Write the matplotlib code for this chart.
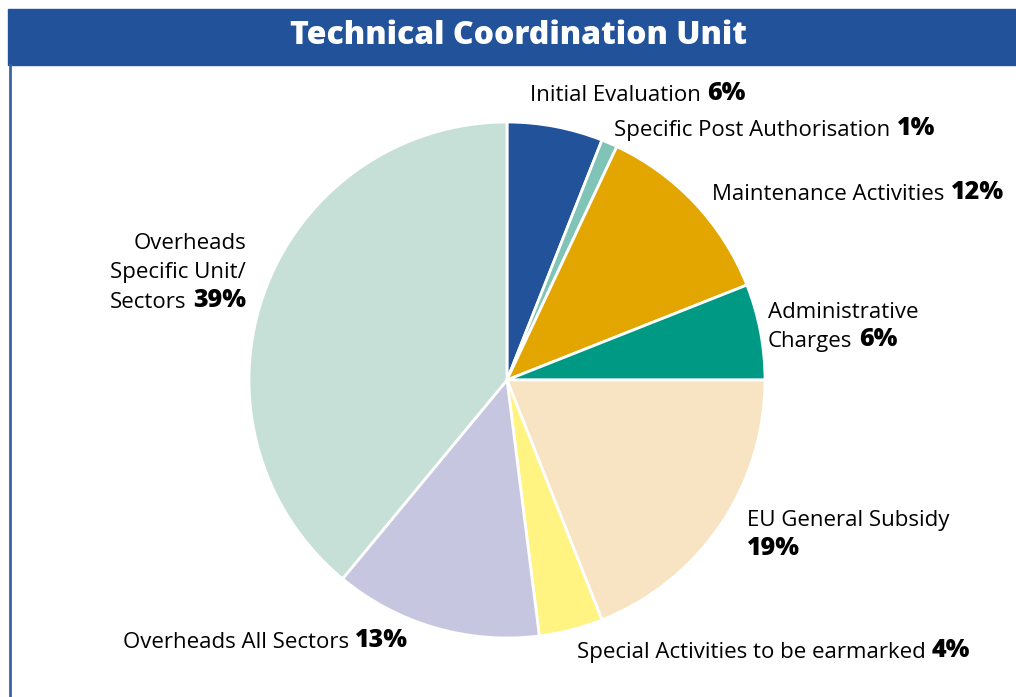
import matplotlib.pyplot as plt
from matplotlib.patches import Rectangle

plt.rcParams['font.family'] = ['Open Sans', 'DejaVu Sans']

categories = ['Initial Evaluation', 'Specific Post Authorisation', 'Maintenance Activities',
              'Administrative Charges', 'EU General Subsidy', 'Special Activities to be earmarked',
              'Overheads All Sectors', 'Overheads Specific Unit/ Sectors']
shares = [6, 1, 12, 6, 19, 4, 13, 39]
colors = ['#22529a', '#80c4b7', '#e3a500', '#009a84', '#f8e3c2', '#fff382', '#c6c6e1', '#c6e0d8']

# label lines (last line gets the bold percentage), anchor x, first baseline (image px), alignment
label_lines = [['Initial Evaluation'], ['Specific Post Authorisation'], ['Maintenance Activities'],
               ['Administrative', 'Charges'], ['EU General Subsidy', ''],
               ['Special Activities to be earmarked'], ['Overheads All Sectors'],
               ['Overheads', 'Specific Unit/', 'Sectors']]
label_pos = [(530, 101, 'left'), (614, 136, 'left'), (712, 200, 'left'), (768, 318, 'left'),
             (747, 526, 'left'), (577, 658, 'left'), (123, 648, 'left'), (246, 249, 'right')]

W, H = 1016, 697
fig = plt.figure(figsize=(W / 100, H / 100), dpi=100)
ax = fig.add_axes([0, 0, 1, 1])
ax.set_xlim(0, W)
ax.set_ylim(0, H)
ax.axis('off')

# header bar and left frame line
ax.add_patch(Rectangle((8, H - 65), W - 8, 56, color='#22529a', zorder=1))
ax.plot([9.5, 9.5], [0, H - 65], color='#3a63a8', lw=2, zorder=1)
ax.text(519, H - 36, 'Technical Coordination Unit', color='white', fontsize=23,
        fontweight='heavy', ha='center', va='center')

ax.pie(shares, colors=colors, startangle=90, counterclock=False,
       center=(507, H - 380), radius=258,
       wedgeprops=dict(edgecolor='white', linewidth=2))
ax.set_xlim(0, W)
ax.set_ylim(0, H)
ax.set_aspect('equal')

fs = 16
fsb = 18
gap = 4.5
for lines, share, (x, y0, ha) in zip(label_lines, shares, label_pos):
    pct = f'{share}%'
    for i, line in enumerate(lines):
        y = H - (y0 + i * 29)
        last = i == len(lines) - 1
        if not last:
            ax.text(x, y, line, fontsize=fs, ha=ha, va='baseline')
            continue
        if line == '':
            ax.text(x, y, pct, fontsize=fsb, fontweight='heavy', ha=ha, va='baseline')
        elif ha == 'left':
            t = ax.text(x, y, line, fontsize=fs, ha='left', va='baseline')
            ax.annotate(pct, xy=(1, 0), xycoords=t, xytext=(gap, 0), textcoords='offset points',
                        fontsize=fsb, fontweight='heavy', ha='left', va='bottom')
        else:
            t = ax.text(x, y, pct, fontsize=fsb, fontweight='heavy', ha='right', va='baseline')
            ax.annotate(line, xy=(0, 0), xycoords=t, xytext=(-gap, 0), textcoords='offset points',
                        fontsize=fs, ha='right', va='bottom')

fig.savefig('out.png', dpi=100)
